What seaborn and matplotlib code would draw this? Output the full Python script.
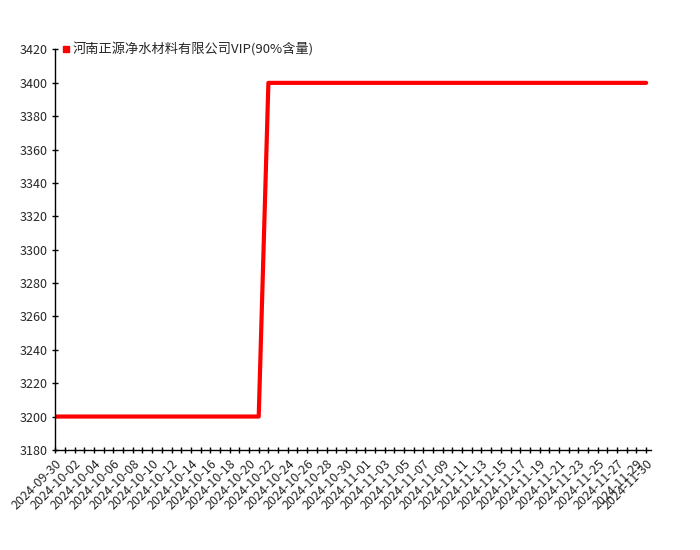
import pandas as pd
import seaborn as sns
import matplotlib.pyplot as plt
from matplotlib.lines import Line2D

# daily prices, 2024-09-30 .. 2024-11-30
dates = pd.date_range("2024-09-30", "2024-11-30", freq="D").strftime("%Y-%m-%d").tolist()
prices = [3200] * 22 + [3400] * 40
series_name = "河南正源净水材料有限公司VIP(90%含量)"

df = pd.DataFrame({"idx": range(len(dates)), "date": dates, "price": prices})

sns.set_style("white")
plt.rcParams['font.family'] = ['Noto Sans CJK SC', 'DejaVu Sans']

fig = plt.figure(figsize=(7, 5.5), dpi=100)
ax = fig.add_axes([0.079, 0.182, 0.851, 0.728])
sns.lineplot(data=df, x="idx", y="price", color="#ff0000", linewidth=3, ax=ax)

ax.set_ylim(3180, 3420)
ax.set_yticks(range(3180, 3421, 20))
ax.set_xlim(0, len(dates) - 1 + 0.5)

ticks = list(range(0, len(dates), 2))
if ticks[-1] != len(dates) - 1:
    ticks.append(len(dates) - 1)
ax.set_xticks(ticks)
ax.set_xticklabels([dates[i] for i in ticks], rotation=45, ha="right",
                   rotation_mode="anchor", fontsize=9)
ax.set_xticks(range(len(dates)), minor=True)
ax.tick_params(axis="x", which="both", bottom=True, direction="inout",
               length=5, width=1, color="black", pad=3)
ax.tick_params(axis="y", left=True, direction="inout", length=5, width=1,
               color="black", labelsize=9, pad=3)

ax.set_xlabel("")
ax.set_ylabel("")
for s in ["top", "right"]:
    ax.spines[s].set_visible(False)
for s in ["left", "bottom"]:
    ax.spines[s].set_color("black")
    ax.spines[s].set_linewidth(1)

handle = Line2D([], [], marker="s", color="#ff0000", linestyle="none", markersize=5)
ax.legend([handle], [series_name], loc="upper left", bbox_to_anchor=(0.0, 1.03),
          frameon=False, fontsize=9.5, handletextpad=0.1, handlelength=0.8,
          borderaxespad=0)

plt.savefig("out.png", dpi=100)
